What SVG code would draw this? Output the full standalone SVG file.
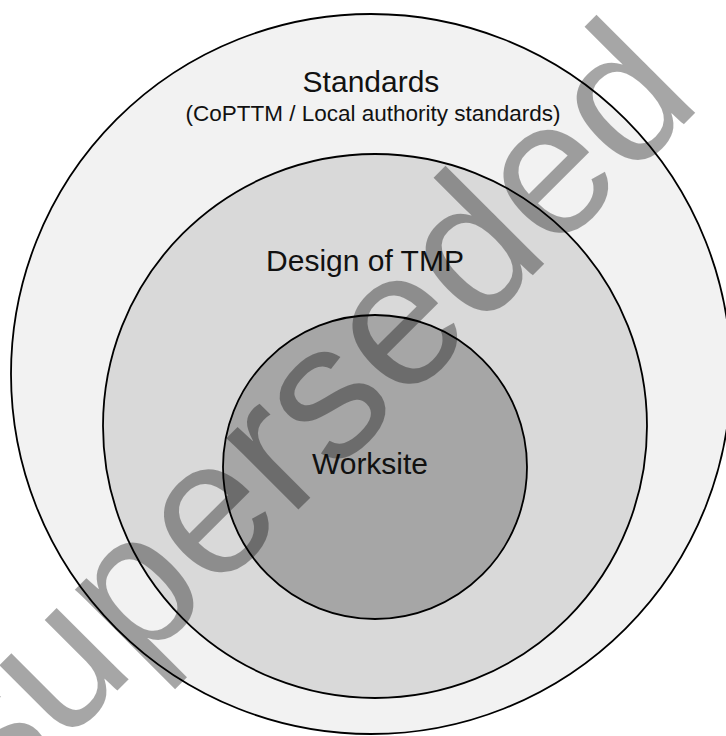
<svg xmlns="http://www.w3.org/2000/svg" width="726" height="736" viewBox="0 0 726 736">
<style>
.ring{stroke:#000;stroke-width:1.8}
.lbl{font-family:"Liberation Sans",Arial,sans-serif;fill:#111;text-anchor:middle}
.wm{font-family:"Liberation Sans",Arial,sans-serif;fill:#000;fill-opacity:0.35;text-anchor:end}
</style>
<rect width="726" height="736" fill="#fff"/>
<g id="standards">
<circle class="ring" cx="371" cy="374" r="360" fill="#f2f2f2"/>
<text class="lbl" x="371" y="92" font-size="30">Standards</text>
<text class="lbl" x="373" y="121" font-size="22.5">(CoPTTM / Local authority standards)</text>
</g>
<g id="design">
<circle class="ring" cx="375" cy="426" r="272" fill="#d9d9d9"/>
<text class="lbl" x="365" y="271" font-size="30">Design of TMP</text>
</g>
<g id="worksite">
<circle class="ring" cx="375" cy="467" r="152" fill="#a6a6a6"/>
<text class="lbl" x="370" y="474" font-size="30">Worksite</text>
</g>
<g id="connectors"/>
<text class="wm" transform="translate(704,104) rotate(-45)" font-size="192">superseded</text>
</svg>
